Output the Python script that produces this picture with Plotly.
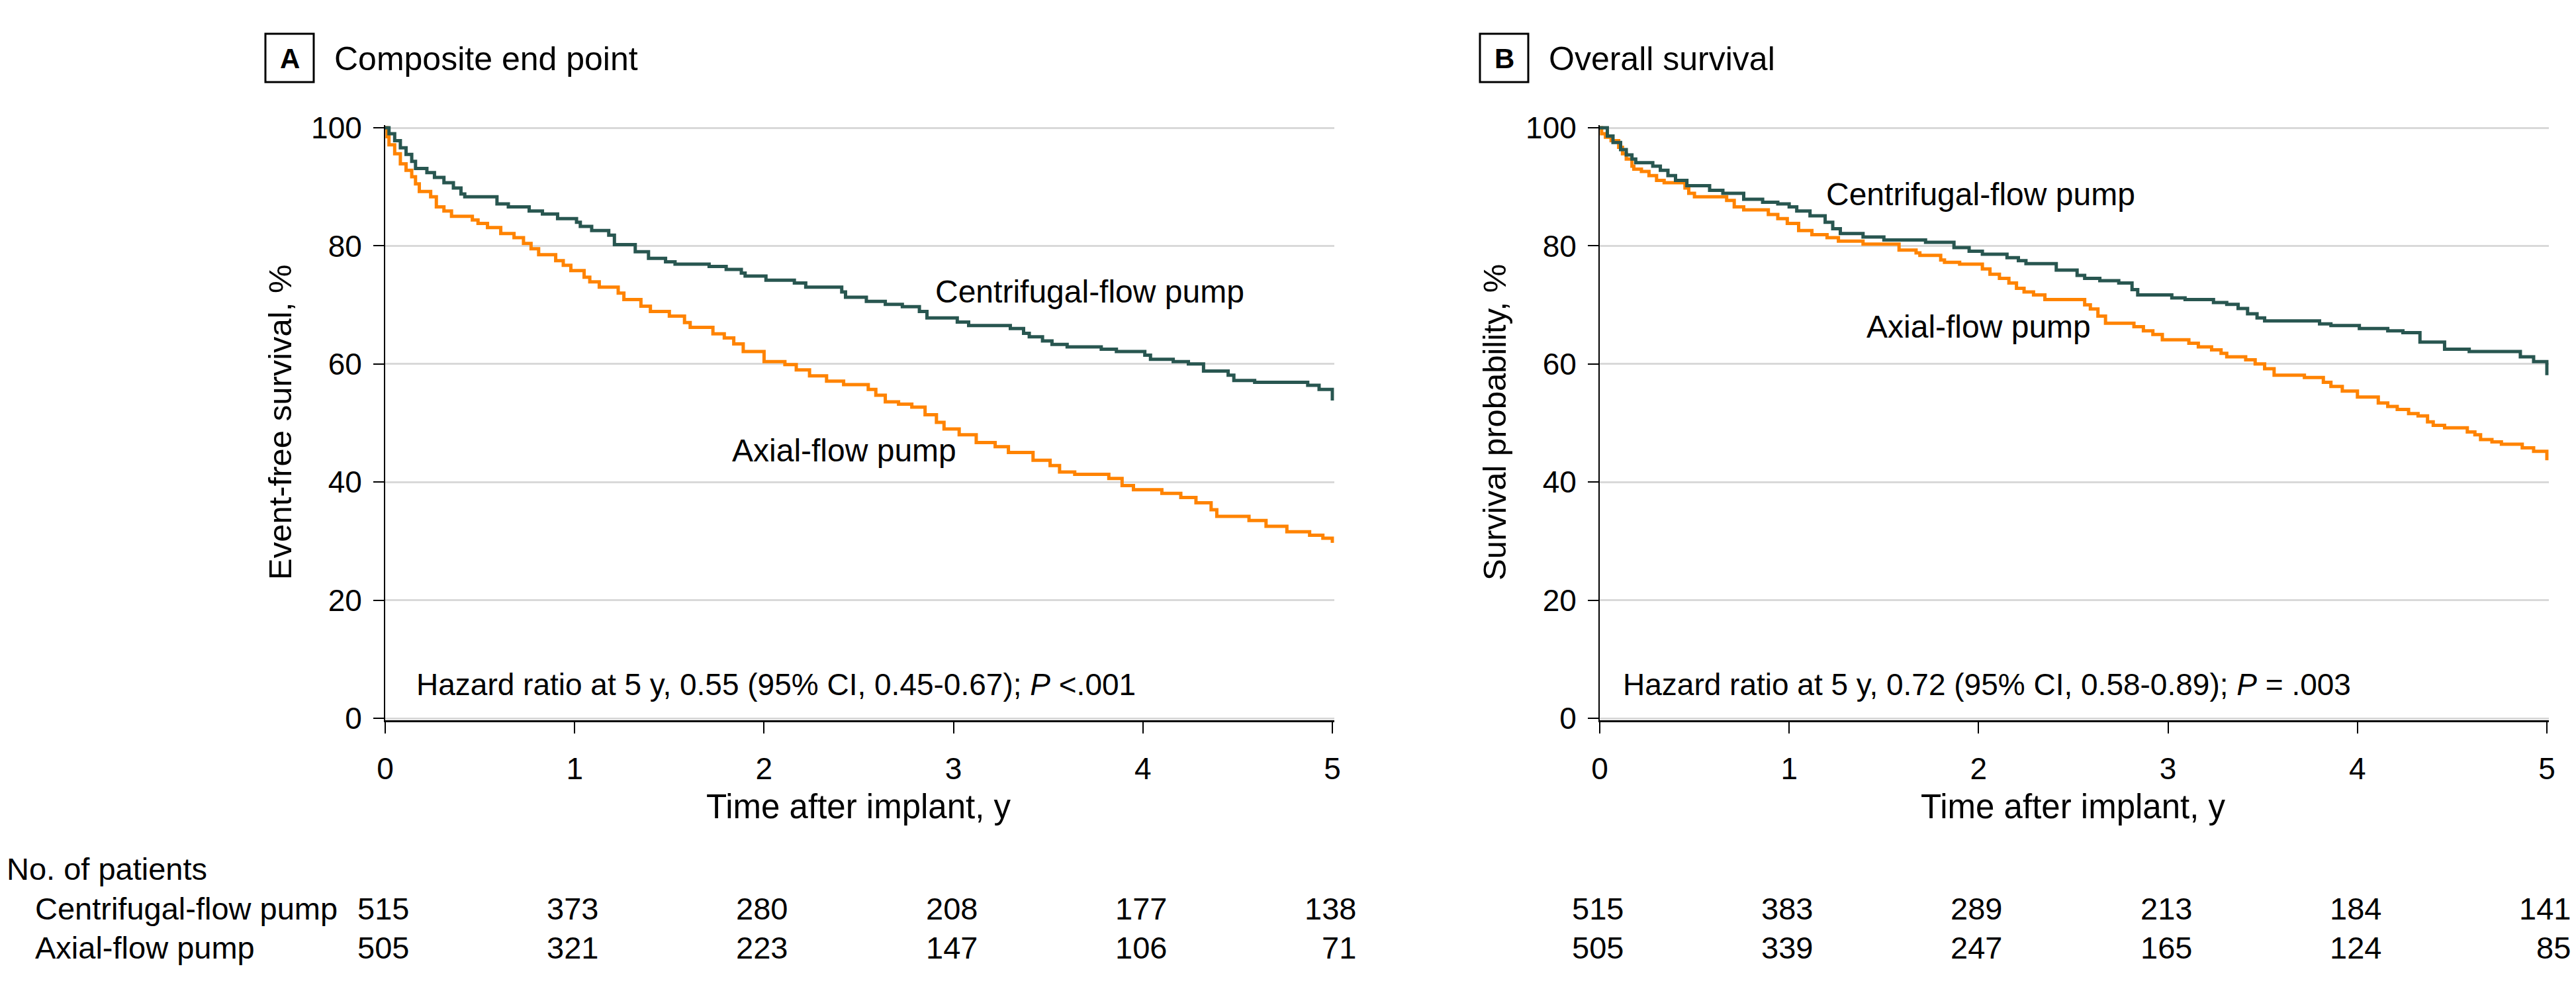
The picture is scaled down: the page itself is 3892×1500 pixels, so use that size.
import plotly.graph_objects as go

# ---------------- data ----------------
# Panel A: composite end point (event-free survival, %)
a_cent_t = [0, 0.02, 0.05, 0.08, 0.11, 0.14, 0.16, 0.22, 0.26, 0.31, 0.36, 0.40, 0.42, 0.59, 0.65,
            0.76, 0.83, 0.91, 1.01, 1.03, 1.09, 1.18, 1.21, 1.32, 1.39, 1.48, 1.53, 1.71, 1.80, 1.88,
            1.90, 2.01, 2.16, 2.22, 2.41, 2.43, 2.54, 2.64, 2.73, 2.82, 2.86, 3.02, 3.08, 3.30, 3.37,
            3.40, 3.47, 3.52, 3.60, 3.78, 3.86, 4.01, 4.04, 4.16, 4.24, 4.32, 4.45, 4.48, 4.59, 4.87,
            4.93, 5.00]
a_cent_s = [100, 99.0, 97.8, 96.6, 95.5, 94.3, 93.1, 92.4, 91.6, 90.7, 89.8, 88.8, 88.3, 87.1, 86.6,
            85.9, 85.4, 84.6, 84.0, 83.3, 82.6, 81.8, 80.2, 79.0, 77.9, 77.3, 76.9, 76.5, 76.0, 75.4,
            74.9, 74.2, 73.7, 73.0, 72.2, 71.3, 70.6, 70.1, 69.7, 68.9, 67.8, 67.1, 66.5, 66.0, 65.2,
            64.6, 63.9, 63.3, 62.9, 62.5, 62.1, 61.5, 60.8, 60.4, 60.0, 58.8, 58.1, 57.2, 56.9, 56.4,
            55.7, 53.8]

a_axial_t = [0, 0.01, 0.02, 0.05, 0.08, 0.11, 0.14, 0.16, 0.18, 0.24, 0.27, 0.31, 0.35, 0.46, 0.49,
             0.54, 0.61, 0.68, 0.73, 0.77, 0.81, 0.90, 0.94, 0.98, 1.05, 1.08, 1.13, 1.23, 1.26, 1.35,
             1.40, 1.50, 1.58, 1.61, 1.73, 1.79, 1.84, 1.89, 2.00, 2.11, 2.17, 2.24, 2.33, 2.42, 2.55,
             2.59, 2.64, 2.71, 2.78, 2.85, 2.91, 2.95, 3.03, 3.12, 3.22, 3.29, 3.42, 3.51, 3.56, 3.64,
             3.82, 3.89, 3.95, 4.10, 4.20, 4.28, 4.36, 4.39, 4.56, 4.65, 4.76, 4.88, 4.95, 5.00]
a_axial_s = [100, 98.5, 97.1, 95.6, 93.9, 92.8, 91.7, 90.5, 89.2, 88.3, 86.6, 85.9, 85.0, 84.4, 83.8,
             83.1, 82.1, 81.4, 80.4, 79.5, 78.5, 77.5, 76.7, 75.8, 74.7, 73.9, 73.0, 72.0, 70.9, 69.8,
             68.9, 68.1, 67.0, 66.2, 65.1, 64.4, 63.4, 62.1, 60.4, 59.9, 59.0, 58.0, 57.1, 56.5, 55.7,
             54.7, 53.6, 53.2, 52.7, 51.4, 50.1, 49.0, 48.0, 46.7, 46.0, 45.0, 43.7, 42.8, 41.7, 41.3,
             40.6, 39.4, 38.7, 38.1, 37.4, 36.5, 35.3, 34.2, 33.5, 32.5, 31.6, 31.0, 30.5, 29.7]

# Panel B: overall survival (survival probability, %)
b_cent_t = [0, 0.04, 0.07, 0.11, 0.14, 0.17, 0.19, 0.28, 0.32, 0.36, 0.40, 0.46, 0.58, 0.65, 0.76,
            0.86, 0.94, 1.00, 1.04, 1.11, 1.19, 1.23, 1.27, 1.39, 1.50, 1.72, 1.87, 1.95, 2.02, 2.15,
            2.21, 2.25, 2.41, 2.52, 2.56, 2.64, 2.74, 2.81, 2.84, 3.02, 3.09, 3.24, 3.31, 3.37, 3.42,
            3.47, 3.51, 3.80, 3.86, 4.01, 4.16, 4.24, 4.33, 4.46, 4.59, 4.86, 4.93, 5.00]
b_cent_s = [100, 98.6, 97.5, 96.3, 95.4, 94.7, 94.1, 93.5, 92.8, 91.9, 91.1, 90.2, 89.4, 88.9, 87.9,
            87.4, 87.1, 86.6, 85.9, 85.1, 84.0, 82.9, 82.1, 81.5, 81.0, 80.6, 79.7, 79.1, 78.6, 78.0,
            77.5, 77.0, 75.9, 75.0, 74.5, 74.1, 73.7, 72.6, 71.7, 71.2, 70.9, 70.4, 70.1, 69.4, 68.5,
            67.8, 67.3, 66.8, 66.5, 66.0, 65.6, 65.3, 63.7, 62.5, 62.1, 61.2, 60.4, 58.1]

b_axial_t = [0, 0.01, 0.03, 0.06, 0.10, 0.12, 0.14, 0.17, 0.18, 0.22, 0.26, 0.30, 0.34, 0.45, 0.47,
             0.50, 0.67, 0.71, 0.76, 0.89, 0.94, 0.99, 1.05, 1.12, 1.20, 1.26, 1.39, 1.58, 1.67, 1.69,
             1.80, 1.82, 1.90, 2.02, 2.06, 2.11, 2.16, 2.20, 2.24, 2.29, 2.35, 2.56, 2.59, 2.63, 2.67,
             2.82, 2.87, 2.92, 2.97, 3.11, 3.16, 3.23, 3.28, 3.31, 3.41, 3.46, 3.51, 3.56, 3.72, 3.82,
             3.86, 3.92, 4.00, 4.11, 4.16, 4.21, 4.27, 4.32, 4.37, 4.40, 4.46, 4.58, 4.62, 4.65, 4.71,
             4.76, 4.87, 4.93, 5.00]
b_axial_s = [100, 99.0, 98.4, 97.8, 96.7, 95.6, 94.7, 93.5, 93.0, 92.6, 91.9, 91.1, 90.7, 89.8, 88.9,
             88.3, 87.7, 86.6, 86.1, 85.3, 84.6, 83.8, 82.6, 81.9, 81.4, 80.8, 80.3, 79.3, 78.8, 78.4,
             77.6, 77.2, 76.9, 76.1, 75.2, 74.5, 73.7, 72.8, 72.2, 71.7, 70.9, 70.0, 69.3, 68.1, 66.9,
             66.3, 65.6, 65.0, 64.1, 63.5, 62.9, 62.4, 61.8, 61.2, 60.7, 60.0, 59.2, 58.1, 57.7, 56.9,
             56.2, 55.4, 54.4, 53.4, 52.8, 52.3, 51.6, 51.2, 50.2, 49.6, 49.2, 48.5, 48.0, 47.2, 46.8,
             46.4, 45.8, 45.2, 43.7]

risk_times = [0, 1, 2, 3, 4, 5]
a_risk_cent = [515, 373, 280, 208, 177, 138]
a_risk_axial = [505, 321, 223, 147, 106, 71]
b_risk_cent = [515, 383, 289, 213, 184, 141]
b_risk_axial = [505, 339, 247, 165, 124, 85]

group_names = ["Centrifugal-flow pump", "Axial-flow pump"]
panel_letters = ["A", "B"]
panel_titles = ["Composite end point", "Overall survival"]
y_titles = ["Event-free survival, %", "Survival probability, %"]
x_title = "Time after implant, y"
hazard_texts = ["Hazard ratio at 5 y, 0.55 (95% CI, 0.45-0.67); <i>P</i> <.001",
                "Hazard ratio at 5 y, 0.72 (95% CI, 0.58-0.89); <i>P</i> = .003"]
y_ticks = [0, 20, 40, 60, 80, 100]
x_ticks = [0, 1, 2, 3, 4, 5]

# ---------------- styling / layout ----------------
PAGE_OFF = 8            # default body margin of the html page
W, H = 3884, 1484       # figure size (page minus body margins)
FONT = "Liberation Sans, Arial, sans-serif"
TEAL = "#285650"
ORANGE = "#FF8300"
GRID = "#d9d9d9"


def px(xp):
    """page pixel x -> paper fraction"""
    return (xp - PAGE_OFF) / W


def py(yp):
    """page pixel y (from top) -> paper fraction"""
    return (H - (yp - PAGE_OFF)) / H


YMIN, YMAX = -0.35, 100.4
UNIT_Y = 8.92
ydom = [py(1085 - YMIN * UNIT_Y), py(193 - (YMAX - 100) * UNIT_Y)]
XMAX = 5.01
UNIT_X = 286.2
xdomA = [px(582), px(582 + XMAX * UNIT_X)]
xdomB = [px(2417), px(2417 + XMAX * UNIT_X)]

fig = go.Figure()
panels = [
    ("x", "y", a_cent_t, a_cent_s, a_axial_t, a_axial_s),
    ("x2", "y2", b_cent_t, b_cent_s, b_axial_t, b_axial_s),
]
for xa, ya, ct, cs, at, as_ in panels:
    fig.add_trace(go.Scatter(x=at, y=as_, mode="lines", xaxis=xa, yaxis=ya,
                             line=dict(color=ORANGE, width=5, shape="hv"),
                             name=group_names[1], showlegend=False, hoverinfo="skip"))
    fig.add_trace(go.Scatter(x=ct, y=cs, mode="lines", xaxis=xa, yaxis=ya,
                             line=dict(color=TEAL, width=5, shape="hv"),
                             name=group_names[0], showlegend=False, hoverinfo="skip"))

xaxis_common = dict(range=[0, XMAX], tickvals=x_ticks, showgrid=False, zeroline=False,
                    showline=True, linecolor="black", linewidth=3, ticks="outside",
                    ticklen=17, tickwidth=2, tickcolor="black", automargin=False,
                    tickfont=dict(family=FONT, size=46, color="black"), ticklabelstandoff=14)
yaxis_common = dict(range=[YMIN, YMAX], tickvals=y_ticks, showgrid=True, gridcolor=GRID,
                    gridwidth=3, zeroline=False, showline=True, linecolor="black", linewidth=2,
                    ticks="outside", ticklen=16, tickwidth=2, tickcolor="black", automargin=False,
                    tickfont=dict(family=FONT, size=46, color="black"), ticklabelstandoff=8)

fig.update_layout(
    template="none",
    width=W, height=H, margin=dict(l=0, r=0, t=0, b=0, pad=0, autoexpand=False),
    paper_bgcolor="white", plot_bgcolor="white", showlegend=False,
    xaxis=dict(domain=xdomA, anchor="y", **xaxis_common),
    yaxis=dict(domain=ydom, anchor="x", **yaxis_common),
    xaxis2=dict(domain=xdomB, anchor="y2", **xaxis_common),
    yaxis2=dict(domain=ydom, anchor="x2", **yaxis_common),
)

ann = []
shapes = []
offsets = [0, 1835]
for i in range(2):
    off = offsets[i]
    xr = "x" if i == 0 else "x2"
    yr = "y" if i == 0 else "y2"
    # panel letter box
    shapes.append(dict(type="rect", xref="paper", yref="paper",
                       x0=px(401 + off), x1=px(474 + off), y0=py(124), y1=py(51),
                       line=dict(color="black", width=3), fillcolor="rgba(0,0,0,0)"))
    ann.append(dict(text="<b>%s</b>" % panel_letters[i], xref="paper", yref="paper",
                    x=px(437.5 + off), y=py(88), xanchor="center", yanchor="middle",
                    showarrow=False, font=dict(family=FONT, size=42, color="black")))
    ann.append(dict(text=panel_titles[i], xref="paper", yref="paper",
                    x=px(503 + off), y=py(89), xanchor="left", yanchor="middle",
                    showarrow=False, font=dict(family=FONT, size=50, color="black")))
    # axis titles
    ann.append(dict(text=x_title, xref="paper", yref="paper",
                    x=px(1297.5 + off), y=py(1218), xanchor="center", yanchor="middle",
                    showarrow=False, font=dict(family=FONT, size=51, color="black")))
    ann.append(dict(text=y_titles[i], xref="paper", yref="paper", textangle=-90,
                    x=px(423 + off), y=py(638), xanchor="center", yanchor="middle",
                    showarrow=False, font=dict(family=FONT, size=49, color="black")))
    # hazard text
    ann.append(dict(text=hazard_texts[i], xref=xr, yref=yr,
                    x=[0.156, 0.115][i], y=5.7, xanchor="left", yanchor="middle",
                    showarrow=False, font=dict(family=FONT, size=46, color="black")))

# curve labels
ann.append(dict(text=group_names[0], xref="x", yref="y", x=2.897, y=72.2, xanchor="left",
                yanchor="middle", showarrow=False, font=dict(family=FONT, size=48, color="black")))
ann.append(dict(text=group_names[1], xref="x", yref="y", x=1.824, y=45.4, xanchor="left",
                yanchor="middle", showarrow=False, font=dict(family=FONT, size=48, color="black")))
ann.append(dict(text=group_names[0], xref="x2", yref="y2", x=1.188, y=88.7, xanchor="left",
                yanchor="middle", showarrow=False, font=dict(family=FONT, size=48, color="black")))
ann.append(dict(text=group_names[1], xref="x2", yref="y2", x=1.401, y=66.3, xanchor="left",
                yanchor="middle", showarrow=False, font=dict(family=FONT, size=48, color="black")))

# number at risk table
ann.append(dict(text="No. of patients", xref="paper", yref="paper", x=px(8), y=py(1312),
                xanchor="left", yanchor="middle", showarrow=False,
                font=dict(family=FONT, size=47, color="black")))
row_y = [1372, 1431]
for r in range(2):
    ann.append(dict(text=group_names[r], xref="paper", yref="paper", x=px(51), y=py(row_y[r]),
                    xanchor="left", yanchor="middle", showarrow=False,
                    font=dict(family=FONT, size=47, color="black")))
risk_sets = [("x", [a_risk_cent, a_risk_axial]), ("x2", [b_risk_cent, b_risk_axial])]
for xr, rows in risk_sets:
    for r, vals in enumerate(rows):
        for t, v in zip(risk_times, vals):
            ann.append(dict(text=str(v), xref=xr, yref="paper", x=t, y=py(row_y[r]),
                            xanchor="right", yanchor="middle", xshift=38, showarrow=False,
                            font=dict(family=FONT, size=47, color="black")))

fig.update_layout(annotations=ann, shapes=shapes)
fig.write_html("out.html")
